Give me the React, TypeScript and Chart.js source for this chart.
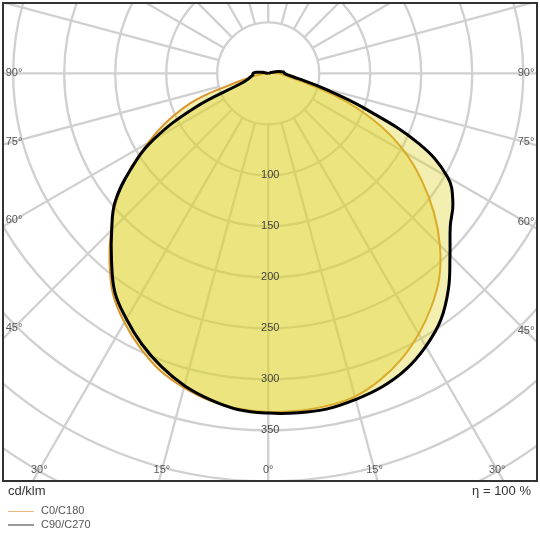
import { useEffect, useRef } from "react";
import { Chart, registerables } from "chart.js";

Chart.register(...registerables);

// polar angle (gamma) in degrees, 0 = straight down
const ANGLES = [0, 5, 10, 15, 20, 25, 30, 35, 40, 45, 50, 55, 60, 65, 70, 75, 80, 85, 90, 95, 100, 105, 110];
// luminous intensity, cd/klm
const C0 = [332, 332, 331, 328, 320, 309, 295, 279, 261, 238, 212, 184, 155, 121, 82, 42, 22, 14, 10, 5, 2, 0, 0];
const C180 = [332, 330, 326, 319, 310, 297, 282, 265, 242, 218, 194, 166, 136, 107, 75, 28, 12, 6, 4, 2, 0, 0, 0];
const C90 = [333, 334, 334, 331, 327, 320, 309, 295, 275, 252, 233, 221, 203, 163, 101, 55, 30, 20, 16, 15, 10, 3, 0];
const C270 = [333, 331, 325, 317, 306, 293, 278, 262, 239, 217, 196, 165, 130, 79, 27, 20, 17, 15, 15, 12, 6, 0, 0];

const RINGS = [50, 100, 150, 200, 250, 300, 350, 400, 450, 500];
const RING_LABELS = [100, 150, 200, 250, 300, 350];
const SIDE_LABELS = [45, 60, 75, 90];
const BOTTOM_LABELS = [0, 15, 30];

const FONT = '"Liberation Sans", Arial, sans-serif';

// left half uses the second plane (C180 / C270), right half the first
function toPoints(right: number[], left: number[]) {
  const pts: { x: number; y: number }[] = [];
  for (let i = ANGLES.length - 1; i >= 0; i--) {
    const g = (ANGLES[i] * Math.PI) / 180;
    pts.push({ x: -left[i] * Math.sin(g), y: -left[i] * Math.cos(g) });
  }
  for (let i = 1; i < ANGLES.length; i++) {
    const g = (ANGLES[i] * Math.PI) / 180;
    pts.push({ x: right[i] * Math.sin(g), y: -right[i] * Math.cos(g) });
  }
  return pts;
}

const polarGrid = {
  id: "polarGrid",
  beforeDatasetsDraw(chart: any) {
    const { ctx, chartArea: a, scales } = chart;
    const cx = scales.x.getPixelForValue(0);
    const cy = scales.y.getPixelForValue(0);
    const k = (scales.x.getPixelForValue(100) - cx) / 100;
    ctx.save();
    ctx.beginPath();
    ctx.rect(a.left, a.top, a.right - a.left, a.bottom - a.top);
    ctx.clip();
    ctx.strokeStyle = "#d0d0d0";
    ctx.lineWidth = 2.3;
    RINGS.forEach((r) => {
      ctx.beginPath();
      ctx.arc(cx, cy, r * k, 0, Math.PI * 2);
      ctx.stroke();
    });
    for (let deg = 0; deg < 360; deg += 15) {
      const g = (deg * Math.PI) / 180;
      const dx = Math.sin(g);
      const dy = Math.cos(g);
      ctx.beginPath();
      ctx.moveTo(cx + dx * 50 * k, cy + dy * 50 * k);
      ctx.lineTo(cx + dx * 700 * k, cy + dy * 700 * k);
      ctx.stroke();
    }
    ctx.restore();
  },
  afterDatasetsDraw(chart: any) {
    const { ctx, chartArea: a, scales } = chart;
    const cx = scales.x.getPixelForValue(0);
    const cy = scales.y.getPixelForValue(0);
    const k = (scales.x.getPixelForValue(100) - cx) / 100;
    ctx.save();
    ctx.font = `11px ${FONT}`;
    ctx.textAlign = "center";
    ctx.textBaseline = "middle";
    ctx.fillStyle = "#444";
    RING_LABELS.forEach((r) => {
      ctx.fillText(String(r), cx + 2, cy + r * k);
    });
    ctx.fillStyle = "#555";
    SIDE_LABELS.forEach((deg) => {
      const g = (deg * Math.PI) / 180;
      const xl = a.left + 11;
      const xr = a.right - 11;
      const t = Math.cos(g) / Math.sin(g);
      ctx.fillText(`${deg}°`, xl, cy + (cx - xl) * t);
      ctx.fillText(`${deg}°`, xr, cy + (xr - cx) * t);
    });
    BOTTOM_LABELS.forEach((deg) => {
      const g = (deg * Math.PI) / 180;
      const yb = a.bottom - 11;
      const off = (yb - cy) * Math.tan(g);
      ctx.fillText(`${deg}°`, cx - off, yb);
      if (deg !== 0) ctx.fillText(`${deg}°`, cx + off, yb);
    });
    ctx.strokeStyle = "#333";
    ctx.lineWidth = 2;
    ctx.strokeRect(a.left, a.top, a.right - a.left, a.bottom - a.top);
    ctx.restore();
  },
};

export default function App() {
  const canvasRef = useRef<HTMLCanvasElement>(null);

  useEffect(() => {
    document.body.style.margin = "0";
    if (!canvasRef.current) return;

    const chart = new Chart(canvasRef.current, {
      type: "scatter",
      data: {
        datasets: [
          {
            label: "C90/C270",
            data: toPoints(C90, C270),
            showLine: true,
            tension: 0.4,
            borderColor: "#000000",
            borderWidth: 3,
            backgroundColor: "rgba(222, 210, 40, 0.36)",
            fill: "shape",
            pointRadius: 0,
          },
          {
            label: "C0/C180",
            data: toPoints(C0, C180),
            showLine: true,
            tension: 0.4,
            borderColor: "#d8962c",
            borderWidth: 2,
            backgroundColor: "rgba(222, 210, 40, 0.36)",
            fill: "shape",
            pointRadius: 0,
          },
        ],
      },
      options: {
        animation: false,
        responsive: false,
        maintainAspectRatio: false,
        layout: { padding: { left: 3, top: 3, right: 3, bottom: 3 } },
        scales: {
          x: { type: "linear", min: -260, max: 263.5, display: false },
          y: { type: "linear", min: -399.6, max: 69, display: false },
        },
        plugins: {
          legend: { display: false },
          tooltip: { enabled: false },
        },
      },
      plugins: [polarGrid],
    } as any);

    return () => {
      chart.destroy();
    };
  }, []);

  const text = { position: "absolute" as const, fontFamily: FONT, color: "#333", lineHeight: 1 };

  return (
    <div style={{ position: "relative", width: 540, height: 540, background: "#fff" }}>
      <canvas ref={canvasRef} width={540} height={484} />
      <div style={{ ...text, left: 8, top: 484, fontSize: 13 }}>cd/klm</div>
      <div style={{ ...text, right: 9, top: 484, fontSize: 13 }}>η = 100 %</div>
      <div style={{ position: "absolute", left: 8, top: 511, width: 26, height: 1, background: "#e6b97e" }} />
      <div style={{ ...text, left: 41, top: 505, fontSize: 11, color: "#555" }}>C0/C180</div>
      <div style={{ position: "absolute", left: 8, top: 524, width: 26, height: 2, background: "#9a9a9a" }} />
      <div style={{ ...text, left: 41, top: 519, fontSize: 11, color: "#555" }}>C90/C270</div>
    </div>
  );
}
